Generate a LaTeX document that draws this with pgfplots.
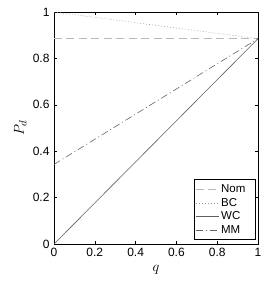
\documentclass[border=0pt]{standalone}
\usepackage{pgfplots}
\pgfplotsset{compat=1.18}
\usepackage{fontspec}
\setmainfont{Liberation Sans}
\newcommand{\lt}[1]{\makebox[31pt][l]{#1}}
\begin{document}
\begin{tikzpicture}
\begin{axis}[
  width=204pt, height=232pt, scale only axis,
  xmin=0, xmax=1, ymin=0, ymax=1,
  xtick={0,0.2,0.4,0.6,0.8,1},
  ytick={0,0.2,0.4,0.6,0.8,1},
  tick align=inside,
  major tick length=3pt,
  axis line style={line width=0.6pt},
  every tick/.style={line width=0.5pt},
  /pgf/number format/assume math mode=true,
  ticklabel style={font=\fontsize{12}{14}\selectfont},
  yticklabel style={xshift=-1pt},
  xticklabel style={yshift=-1pt},
  xlabel={$q$}, ylabel={$P_d$},
  label style={font=\fontsize{15.5}{17}\selectfont},
  xlabel style={at={(axis description cs:0.5,-0.112)}, anchor=center},
  ylabel style={at={(axis description cs:-0.165,0.5)}, anchor=center},
  legend style={at={(1,0)}, anchor=south east, xshift=-2.5pt, yshift=4pt,
    font=\fontsize{11.5}{13.7}\selectfont,
    draw=black, line width=0.7pt, inner xsep=1pt, inner ysep=3pt, row sep=0pt},
  legend cell align=left,
  legend image code/.code={\draw[#1] (0pt,0pt) -- (23pt,0pt);},
]
\addplot[gray!55, line width=1pt, dash pattern=on 8pt off 4.5pt] coordinates {(0,0.885) (1,0.885)};
\addlegendentry{\lt{Nom}}
\addplot[gray!80, line width=0.6pt, dash pattern=on 0.8pt off 2.2pt] coordinates {(0,1) (1,0.885)};
\addlegendentry{\lt{BC}}
\addplot[gray!75!black, line width=0.6pt] coordinates {(0,0) (1,0.885)};
\addlegendentry{\lt{WC}}
\addplot[gray!80!black, line width=0.6pt, dash pattern=on 7pt off 3pt on 1pt off 3pt] coordinates {(0,0.343) (1,0.885)};
\addlegendentry{\lt{MM}}
\end{axis}
\pgfresetboundingbox
\path[use as bounding box] (-54pt,-38pt) rectangle (212pt,244pt);
\end{tikzpicture}
\end{document}
